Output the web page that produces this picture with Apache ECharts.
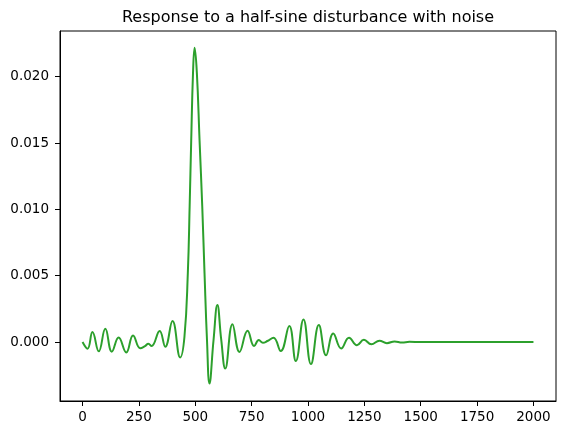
<!DOCTYPE html>
<html lang="en">
  <head>
    <meta charset="UTF-8" />
    <title>half-sine response</title>
    <script src="https://cdn.jsdelivr.net/npm/echarts@6/dist/echarts.min.js"></script>
    <style>
      html, body { margin: 0; padding: 0; background: #fff; }
      #main { width: 565px; height: 435px; }
    </style>
  </head>
  <body>
    <div id="main"></div>
    <script>
      // values (extrema + a few shape points)
      var timeSteps = [
        0, 22, 44, 72, 101, 130, 160, 194, 224, 256, 277, 292, 306, 342, 367, 399,
        433, 452, 467, 475, 482, 490, 497, 507, 519, 531, 541, 552, 563, 581, 598,
        615, 633, 665, 696, 732, 761, 782, 800, 820, 847, 879, 917, 946, 980, 1013,
        1048, 1080, 1112, 1147, 1182, 1217, 1248, 1281, 1317, 1350, 1384, 1417,
        1450, 1500, 1750, 2000
      ];
      var response = [
        0, -0.0005, 0.00075, -0.0007, 0.001, -0.00072, 0.00034, -0.00078, 0.0005,
        -0.00046, -0.0003, -0.00012, -0.0003, 0.00083, -0.00035, 0.00158,
        -0.00116, 0.0004, 0.0052, 0.0102, 0.0152, 0.0203, 0.02217, 0.0203, 0.0152,
        0.0102, 0.0052, 0.00015, -0.00312, 0.00015, 0.00279,
        0.0002, -0.00199, 0.00134, -0.00075, 0.00085, -0.0003, 0.00015, -0.00005,
        0.00008, 0.00033, -0.00068, 0.00121, -0.00143, 0.00171, -0.00166,
        0.00128, -0.001, 0.00065, -0.00048, 0.00033, -0.00023, 0.00017, -0.00017,
        0.0001, -0.00008, 0.00005, -0.00003,
        0.00002, 0, 0, 0
      ];
      var xTicks = [0, 250, 500, 750, 1000, 1250, 1500, 1750, 2000];
      var yTicks = [0, 0.005, 0.01, 0.015, 0.02];

      var chart = echarts.init(document.getElementById('main'));
      var font = 'DejaVu Sans';
      var option = {
        animation: false,
        title: {
          text: 'Response to a half-sine disturbance with noise',
          left: 308,
          top: 10,
          padding: 0,
          textAlign: 'center',
          textStyle: { fontFamily: font, fontSize: 16, fontWeight: 'normal', color: '#000' }
        },
        grid: {
          left: 60, right: 9, top: 31, bottom: 34,
          show: true, borderColor: '#000', borderWidth: 1
        },
        xAxis: {
          type: 'value',
          min: -100,
          max: 2100,
          axisLine: { onZero: false, lineStyle: { color: '#000', width: 1 } },
          axisTick: { inside: false, length: 5, lineStyle: { color: '#000' }, customValues: xTicks },
          axisLabel: {
            customValues: xTicks, margin: 9, fontFamily: font, fontSize: 13.5, color: '#000',
            formatter: function (v) { return String(v); }
          },
          splitLine: { show: false }
        },
        yAxis: {
          type: 'value',
          min: -0.00444,
          max: 0.02344,
          axisLine: { show: true, onZero: false, lineStyle: { color: '#000', width: 1 } },
          axisTick: { show: true, inside: false, length: 5, lineStyle: { color: '#000' }, customValues: yTicks },
          axisLabel: {
            customValues: yTicks, margin: 11, fontFamily: font, fontSize: 13.5, color: '#000',
            formatter: function (v) { return v.toFixed(3); }
          },
          splitLine: { show: false }
        },
        series: [
          {
            type: 'line',
            data: timeSteps.map(function (t, i) { return [t, response[i]]; }),
            smooth: 0.45,
            showSymbol: false,
            lineStyle: { color: '#2ca02c', width: 2 }
          }
        ]
      };
      chart.setOption(option);
    </script>
  </body>
</html>
